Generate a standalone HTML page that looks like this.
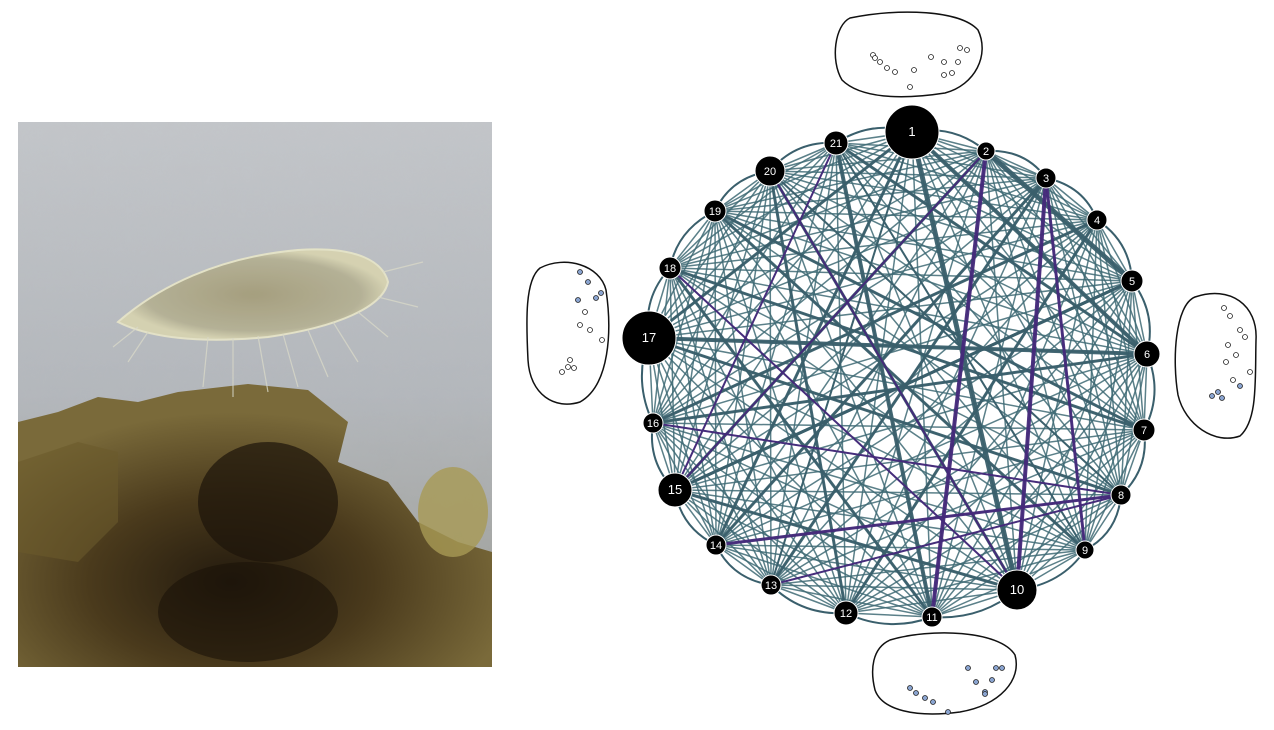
<!DOCTYPE html>
<html><head><meta charset="utf-8">
<style>
html,body{margin:0;padding:0;background:#fff;}
body{width:1274px;height:730px;position:relative;overflow:hidden;font-family:"Liberation Sans",sans-serif;}
#photo{position:absolute;left:18px;top:122px;width:474px;height:545px;}
#net{position:absolute;left:0;top:0;}
</style></head>
<body>
<svg id="photo" width="474" height="545" viewBox="0 0 474 545">
<defs>
<linearGradient id="bg" x1="0" y1="0" x2="0" y2="1">
<stop offset="0" stop-color="#c3c6ca"/><stop offset="0.5" stop-color="#b3b7bc"/><stop offset="1" stop-color="#9a9a92"/>
</linearGradient>
<radialGradient id="mass" cx="0.45" cy="0.7" r="0.6">
<stop offset="0" stop-color="#231a0e"/><stop offset="0.5" stop-color="#4a3a1c"/><stop offset="1" stop-color="#7a6a3a"/>
</radialGradient>
<radialGradient id="cellg" cx="0.5" cy="0.5" r="0.5">
<stop offset="0" stop-color="#a49c78"/><stop offset="0.8" stop-color="#b4b092"/><stop offset="1" stop-color="#d8d4b0"/>
</radialGradient>
<filter id="noise"><feTurbulence type="fractalNoise" baseFrequency="0.05" numOctaves="3"/><feColorMatrix values="0 0 0 0 0.5  0 0 0 0 0.5  0 0 0 0 0.5  0 0 0 0.25 0"/></filter>
</defs>
<rect width="474" height="545" fill="url(#bg)"/>
<rect width="474" height="545" filter="url(#noise)" opacity="0.6"/>
<path d="M0 300 L40 290 L80 275 L120 280 L160 270 L230 262 L290 268 L330 300 L320 340 L370 360 L400 400 L440 420 L474 430 L474 545 L0 545 Z" fill="url(#mass)"/>
<path d="M0 340 L60 320 L100 330 L100 400 L60 440 L0 430 Z" fill="#6a5a2c" opacity="0.6"/>
<ellipse cx="250" cy="380" rx="70" ry="60" fill="#1c140a" opacity="0.7"/>
<ellipse cx="230" cy="490" rx="90" ry="50" fill="#1a1208" opacity="0.6"/>
<ellipse cx="435" cy="390" rx="35" ry="45" fill="#a89a55" opacity="0.8"/>
<path d="M100 200 C140 165 200 135 280 128 C340 124 365 140 370 160 C365 185 320 205 250 215 C180 222 130 215 100 200 Z" fill="url(#cellg)" stroke="#e8e6c8" stroke-width="2" opacity="0.9"/>
<g stroke="#d8d8c8" stroke-width="1.2" fill="none" opacity="0.8">
<path d="M190 215 L185 265"/><path d="M215 216 L215 275"/><path d="M240 214 L250 270"/><path d="M265 212 L280 265"/><path d="M290 208 L310 255"/><path d="M315 200 L340 240"/><path d="M340 190 L370 215"/><path d="M360 175 L400 185"/><path d="M365 150 L405 140"/><path d="M120 205 L95 225"/><path d="M130 210 L110 240"/>
</g>
</svg>

<svg id="net" width="1274" height="730" viewBox="0 0 1274 730">
<g id="blobs" fill="#fff" stroke="#111" stroke-width="1.5">
<path d="M850 18 C900 8 960 10 978 30 C990 55 975 85 945 93 C900 100 860 98 842 80 C830 60 835 25 850 18 Z"/>
<path d="M1195 297 C1230 285 1258 305 1256 340 C1255 380 1258 420 1240 436 C1215 445 1185 425 1178 395 C1172 360 1175 305 1195 297 Z"/>
<path d="M540 268 C565 255 600 265 606 290 C612 330 610 385 580 402 C555 410 530 395 528 360 C526 320 525 280 540 268 Z"/>
<path d="M890 640 C930 628 1000 630 1015 655 C1022 680 1000 705 960 712 C915 718 882 710 875 690 C870 670 872 648 890 640 Z"/>
</g>
<g id="edges" fill="none"></g>
<g id="dots"></g>
<g id="nodes"></g>
</svg>
<script>
const nodeIds=[1,2,3,4,5,6,7,8,9,10,11,12,13,14,15,16,17,18,19,20,21];
const nodeX=[912,986,1046,1097,1132,1147,1144,1121,1085,1017,932,846,771,716,675,653,649,670,715,770,836];
const nodeY=[132,151,178,220,281,354,430,495,550,590,617,613,585,545,490,423,338,268,211,171,143];
const nodeR=[27,9,10,10,11,13,11,10,9,20,10,12,10,10,17,10,27,11,11,15,12];
const thickEdges=[[1,10,5],[1,6,4],[2,5,5],[21,11,4],[20,12,3],[17,6,4],[15,5,3],[18,7,3],[14,3,3],[1,14,3],[20,10,3],[19,9,3],[17,8,3],[2,15,3],[16,4,3],[21,6,3],[3,13,3],[12,4,3],[5,15,3],[1,17,3],[6,16,3],[7,19,3],[10,15,3],[9,21,2],[11,18,3],[13,1,2],[8,20,2]];
const purpleEdges=[[2,11,4],[3,10,4],[3,9,3],[16,8,2],[20,10,2],[14,8,3],[15,2,2],[21,15,2],[18,10,2],[13,8,2]];
const ns="http://www.w3.org/2000/svg";
const E=document.getElementById('edges');
function line(a,b,w,c,op){
  const l=document.createElementNS(ns,'line');
  l.setAttribute('x1',nodeX[a-1]);l.setAttribute('y1',nodeY[a-1]);
  l.setAttribute('x2',nodeX[b-1]);l.setAttribute('y2',nodeY[b-1]);
  l.setAttribute('stroke',c);l.setAttribute('stroke-width',w);l.setAttribute('stroke-opacity',op);
  
  
  E.appendChild(l);
}
for(let i=1;i<=21;i++)for(let j=i+1;j<=21;j++){line(i,j,1.5,'#3e6a74',0.85);}
thickEdges.forEach(e=>line(e[0],e[1],e[2],'#3a5f6c',0.95));
purpleEdges.forEach(e=>line(e[0],e[1],e[2],'#45287a',0.95));
const cx=898,cy=375;
for(let i=0;i<21;i++){
  const j=(i+1)%21;
  const p=document.createElementNS(ns,'path');
  const mx=(nodeX[i]+nodeX[j])/2,my=(nodeY[i]+nodeY[j])/2;
  const dx=mx-cx,dy=my-cy,d=Math.hypot(dx,dy);
  const qx=mx+dx/d*18,qy=my+dy/d*18;
  p.setAttribute('d','M'+nodeX[i]+' '+nodeY[i]+' Q'+qx+' '+qy+' '+nodeX[j]+' '+nodeY[j]);
  p.setAttribute('stroke','#3a5f6c');p.setAttribute('stroke-width','2');
  
  
  E.appendChild(p);
}
const N=document.getElementById('nodes');
for(let i=0;i<nodeIds.length;i++){
  const g=document.createElementNS(ns,'g');
  
  
  const c=document.createElementNS(ns,'circle');
  c.setAttribute('cx',nodeX[i]);c.setAttribute('cy',nodeY[i]);c.setAttribute('r',nodeR[i]);
  c.setAttribute('fill','#000');c.setAttribute('stroke','#fff');c.setAttribute('stroke-width','1');
  g.appendChild(c);
  const t=document.createElementNS(ns,'text');
  t.setAttribute('x',nodeX[i]);t.setAttribute('y',nodeY[i]+4);
  t.setAttribute('text-anchor','middle');t.setAttribute('fill','#fff');
  t.setAttribute('font-size',nodeR[i]>15?13:11);
  t.setAttribute('font-family','Liberation Sans, sans-serif');
  t.textContent=nodeIds[i];
  g.appendChild(t);
  N.appendChild(g);
}
const dotX=[873,880,887,895,875,914,931,944,960,967,958,944,952,910,1224,1230,1240,1245,1228,1236,1250,1226,1233,1240,1218,1222,1212,580,588,596,601,578,585,580,590,602,570,574,568,562,910,916,925,933,948,968,976,985,992,996,985,1002];
const dotY=[55,62,68,72,58,70,57,62,48,50,62,75,73,87,308,316,330,337,345,355,372,362,380,386,392,398,396,272,282,298,293,300,312,325,330,340,360,368,367,372,688,693,698,702,712,668,682,692,680,668,694,668];
const D=document.getElementById('dots');
for(let i=0;i<dotX.length;i++){
  const c=document.createElementNS(ns,'circle');
  c.setAttribute('cx',dotX[i]);c.setAttribute('cy',dotY[i]);c.setAttribute('r',2.5);
  const blue=(dotX[i]>1200&&dotY[i]>380)||(dotY[i]>650)||(dotX[i]<610&&dotY[i]<305);
  c.setAttribute('fill',blue?'#8aa4d0':'#fff');c.setAttribute('stroke','#222');c.setAttribute('stroke-width','0.8');
  
  
  D.appendChild(c);
}
</script>
</body></html>
